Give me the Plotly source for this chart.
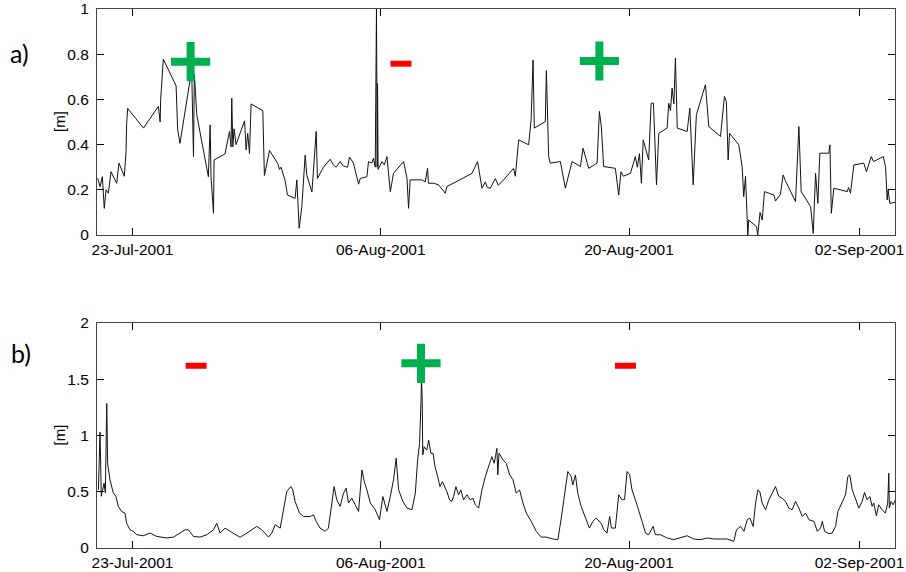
import pandas as pd
import plotly.graph_objects as go

# ---- data (time in day-of-July 2001: 32 = 1 Aug, 63 = 1 Sep) ----
t_a = [21.04, 21.17, 21.30, 21.41, 21.51, 21.64, 21.79, 22.11, 22.24, 22.45, 22.54, 22.64, 22.67, 22.73,
       23.62, 24.46, 24.56, 24.59, 24.74, 25.46, 25.55, 25.68, 26.25, 26.34, 26.44, 26.49, 26.63, 27.28,
       27.38, 27.43, 27.57, 27.60, 28.22, 28.47, 28.56, 28.60, 28.66, 28.73, 28.84, 29.32, 29.41, 29.50,
       29.60, 29.69, 30.35, 30.44, 30.73, 31.20, 31.29, 31.38, 31.61, 31.74, 32.17, 32.27, 32.40, 32.55,
       32.74, 32.83, 33.12, 33.36, 33.43, 33.77, 34.15, 34.33, 34.49, 34.71, 34.90, 35.13, 35.24, 35.46,
       35.75, 35.84, 36.22, 36.31, 36.50, 36.59, 36.69, 36.76, 36.80, 36.82, 36.85, 37.07, 37.20, 37.35,
       37.54, 37.72, 38.29, 38.48, 38.57, 38.66, 39.32, 39.51, 39.64, 39.69, 39.98, 40.26, 40.64, 40.73,
       42.15, 42.46, 42.71, 42.90, 43.01, 43.18, 43.46, 43.63, 43.93, 44.19, 44.49, 44.59, 44.78, 45.34,
       45.48, 45.59, 45.66, 46.28, 46.34, 46.47, 46.56, 47.13, 47.41, 47.79, 48.26, 48.41, 48.73, 49.20,
       49.33, 49.44, 49.57, 50.23, 50.42, 50.55, 50.68, 51.08, 51.36, 51.47, 51.59, 51.70, 51.80, 52.11,
       52.25, 52.38, 52.55, 52.68, 53.15, 53.24, 53.34, 53.43, 53.53, 53.62, 53.72, 54.28, 54.43, 54.62,
       54.80, 55.31, 55.50, 56.16, 56.38, 56.49, 56.59, 56.67, 57.19, 57.38, 57.47, 57.57, 57.70, 57.75,
       58.19, 58.26, 58.39, 58.51, 58.64, 59.17, 59.26, 59.54, 59.69, 59.82, 60.39, 60.58, 60.71, 61.24,
       61.39, 61.52, 61.65, 61.76, 62.27, 62.33, 62.41, 62.55, 63.31, 63.38, 63.49, 63.68, 64.24, 64.39,
       64.66, 64.79, 65.34, 65.47, 65.56, 65.61, 65.71, 66.03]
v_a = [0.251, 0.214, 0.258, 0.118, 0.200, 0.185, 0.280, 0.229, 0.318, 0.280, 0.260, 0.370, 0.490, 0.560,
       0.473, 0.569, 0.500, 0.600, 0.778, 0.660, 0.465, 0.406, 0.687, 0.730, 0.347, 0.710, 0.530, 0.258,
       0.487, 0.258, 0.096, 0.332, 0.359, 0.458, 0.390, 0.605, 0.390, 0.470, 0.400, 0.505, 0.377, 0.450,
       0.360, 0.580, 0.550, 0.263, 0.374, 0.315, 0.290, 0.300, 0.240, 0.177, 0.162, 0.244, 0.030, 0.126,
       0.354, 0.265, 0.190, 0.458, 0.250, 0.300, 0.335, 0.310, 0.300, 0.325, 0.305, 0.300, 0.345, 0.318,
       0.225, 0.250, 0.258, 0.325, 0.318, 0.340, 0.300, 1.000, 0.300, 0.670, 0.290, 0.325, 0.310, 0.347,
       0.192, 0.273, 0.325, 0.251, 0.118, 0.244, 0.244, 0.235, 0.295, 0.229, 0.229, 0.222, 0.185, 0.214,
       0.273, 0.325, 0.207, 0.235, 0.210, 0.207, 0.250, 0.220, 0.244, 0.270, 0.295, 0.260, 0.421, 0.399,
       0.510, 0.775, 0.473, 0.502, 0.728, 0.347, 0.318, 0.325, 0.207, 0.325, 0.303, 0.384, 0.295, 0.318,
       0.547, 0.480, 0.303, 0.295, 0.177, 0.280, 0.260, 0.273, 0.347, 0.300, 0.360, 0.229, 0.421, 0.332,
       0.583, 0.583, 0.222, 0.450, 0.473, 0.583, 0.550, 0.650, 0.580, 0.783, 0.473, 0.458, 0.561, 0.222,
       0.532, 0.665, 0.480, 0.436, 0.613, 0.590, 0.332, 0.450, 0.399, 0.303, 0.170, 0.260, 0.000, 0.066,
       0.037, 0.000, 0.100, 0.066, 0.192, 0.177, 0.150, 0.180, 0.266, 0.240, 0.148, 0.480, 0.192, 0.126,
       0.007, 0.273, 0.140, 0.362, 0.362, 0.399, 0.096, 0.207, 0.192, 0.210, 0.185, 0.310, 0.318, 0.280,
       0.347, 0.325, 0.347, 0.300, 0.155, 0.200, 0.140, 0.145]

t_b = [21.08, 21.13, 21.17, 21.21, 21.24, 21.40, 21.47, 21.55, 21.60, 21.73, 21.92, 22.07, 22.20, 22.39,
       22.58, 22.67, 22.86, 23.05, 23.24, 23.61, 23.99, 24.37, 24.93, 25.31, 25.68, 25.97, 26.15, 26.44,
       26.81, 27.19, 27.57, 27.75, 27.94, 28.22, 28.51, 28.79, 29.07, 29.45, 29.82, 30.01, 30.29, 30.67,
       30.86, 31.05, 31.33, 31.48, 31.70, 31.93, 32.04, 32.17, 32.42, 32.65, 33.03, 33.21, 33.36, 33.58,
       33.87, 34.05, 34.24, 34.37, 34.52, 34.71, 34.90, 35.05, 35.18, 35.37, 35.56, 35.75, 35.94, 36.07,
       36.22, 36.41, 36.69, 36.93, 37.12, 37.35, 37.54, 37.72, 37.87, 38.01, 38.25, 38.48, 38.76, 38.95,
       39.08, 39.19, 39.27, 39.30, 39.34, 39.37, 39.45, 39.60, 39.70, 39.83, 39.95, 40.06, 40.21, 40.34,
       40.48, 40.60, 40.73, 40.88, 41.01, 41.11, 41.24, 41.39, 41.52, 41.67, 41.86, 42.05, 42.20, 42.33,
       42.52, 42.71, 42.90, 43.14, 43.27, 43.40, 43.55, 43.60, 43.67, 43.90, 44.08, 44.27, 44.46, 44.64,
       44.83, 45.02, 45.21, 45.49, 45.77, 46.05, 46.33, 46.71, 46.99, 47.18, 47.36, 47.55, 47.74, 47.83,
       47.98, 48.11, 48.30, 48.49, 48.77, 48.96, 49.15, 49.43, 49.58, 49.76, 49.91, 50.01, 50.23, 50.42,
       50.61, 50.75, 50.89, 51.04, 51.17, 51.36, 51.55, 51.74, 51.93, 52.11, 52.36, 52.49, 52.77, 53.15,
       53.52, 53.90, 54.28, 54.65, 55.03, 55.41, 55.78, 56.16, 56.54, 56.91, 57.06, 57.29, 57.48, 57.67,
       57.82, 58.00, 58.14, 58.27, 58.38, 58.51, 58.70, 58.89, 59.07, 59.26, 59.45, 59.64, 59.83, 60.01,
       60.20, 60.39, 60.58, 60.77, 60.96, 61.15, 61.43, 61.62, 61.80, 61.90, 62.03, 62.27, 62.46, 62.65,
       62.78, 63.02, 63.21, 63.34, 63.45, 63.59, 63.77, 63.96, 64.15, 64.28, 64.43, 64.58, 64.71, 64.80,
       64.95, 65.08, 65.27, 65.46, 65.59, 65.65, 65.68, 65.78, 65.89, 66.02]
v_b = [0.517, 0.780, 1.030, 0.720, 0.460, 0.576, 0.490, 1.285, 0.750, 0.606, 0.490, 0.458, 0.370, 0.325,
       0.310, 0.220, 0.162, 0.148, 0.118, 0.109, 0.133, 0.103, 0.089, 0.097, 0.133, 0.162, 0.162, 0.103,
       0.097, 0.118, 0.162, 0.220, 0.133, 0.177, 0.148, 0.118, 0.095, 0.133, 0.177, 0.192, 0.162, 0.097,
       0.133, 0.207, 0.177, 0.310, 0.502, 0.546, 0.517, 0.414, 0.310, 0.280, 0.280, 0.295, 0.236, 0.177,
       0.148, 0.177, 0.428, 0.546, 0.428, 0.370, 0.487, 0.532, 0.400, 0.443, 0.384, 0.325, 0.694, 0.591,
       0.517, 0.400, 0.340, 0.251, 0.458, 0.325, 0.458, 0.606, 0.798, 0.517, 0.414, 0.355, 0.340, 0.487,
       0.783, 0.930, 1.300, 1.520, 1.310, 0.827, 0.900, 0.870, 0.960, 0.842, 0.842, 0.724, 0.635, 0.546,
       0.590, 0.546, 0.502, 0.428, 0.414, 0.460, 0.546, 0.473, 0.517, 0.428, 0.473, 0.428, 0.443, 0.384,
       0.355, 0.517, 0.635, 0.753, 0.812, 0.753, 0.886, 0.650, 0.842, 0.783, 0.753, 0.650, 0.606, 0.487,
       0.517, 0.400, 0.310, 0.236, 0.148, 0.097, 0.097, 0.080, 0.074, 0.266, 0.458, 0.680, 0.635, 0.560,
       0.650, 0.487, 0.370, 0.295, 0.177, 0.236, 0.266, 0.220, 0.162, 0.133, 0.280, 0.177, 0.177, 0.473,
       0.428, 0.430, 0.680, 0.650, 0.517, 0.428, 0.340, 0.236, 0.133, 0.118, 0.192, 0.118, 0.118, 0.089,
       0.074, 0.089, 0.109, 0.080, 0.074, 0.089, 0.080, 0.080, 0.080, 0.059, 0.162, 0.192, 0.148, 0.251,
       0.266, 0.192, 0.400, 0.517, 0.500, 0.400, 0.340, 0.428, 0.487, 0.546, 0.458, 0.443, 0.414, 0.355,
       0.340, 0.414, 0.355, 0.280, 0.310, 0.251, 0.236, 0.148, 0.177, 0.236, 0.148, 0.127, 0.133, 0.192,
       0.325, 0.400, 0.473, 0.635, 0.650, 0.517, 0.428, 0.355, 0.414, 0.493, 0.428, 0.458, 0.370, 0.400,
       0.287, 0.384, 0.340, 0.310, 0.400, 0.665, 0.355, 0.414, 0.384, 0.428]

# sign markers
plus_a_t, plus_a_v = [26.28, 49.33], [0.767, 0.770]
minus_a_t, minus_a_v = [38.14], [0.758]
plus_b_t, plus_b_v = [39.27], [1.642]
minus_b_t, minus_b_v = [26.59, 50.80], [1.62, 1.62]

tick_dates = ["2001-07-23", "2001-08-06", "2001-08-20", "2001-09-02"]
tick_text = ["23-Jul-2001", "06-Aug-2001", "20-Aug-2001", "02-Sep-2001"]
x_range = ["2001-07-21", "2001-09-04"]


def to_dt(days):
    return [pd.Timestamp("2001-07-01") + pd.to_timedelta(d - 1, unit="D") for d in days]


W, H = 906, 572
GREEN = "#00B050"
RED = "#FF0000"

fig = go.Figure()
fig.add_trace(go.Scatter(x=to_dt(t_a), y=v_a, mode="lines", line=dict(color="#111111", width=1),
                         xaxis="x", yaxis="y", showlegend=False, hoverinfo="skip"))
fig.add_trace(go.Scatter(x=to_dt(t_b), y=v_b, mode="lines", line=dict(color="#111111", width=1),
                         xaxis="x2", yaxis="y2", showlegend=False, hoverinfo="skip"))

plus_marker = dict(symbol="cross-thin", size=28, line=dict(color=GREEN, width=8), color=GREEN)
minus_marker = dict(symbol="line-ew", size=15, line=dict(color=RED, width=6), color=RED)
fig.add_trace(go.Scatter(x=to_dt(plus_a_t), y=plus_a_v, mode="markers", marker=plus_marker,
                         xaxis="x", yaxis="y", showlegend=False, cliponaxis=False))
fig.add_trace(go.Scatter(x=to_dt(minus_a_t), y=minus_a_v, mode="markers", marker=minus_marker,
                         xaxis="x", yaxis="y", showlegend=False, cliponaxis=False))
fig.add_trace(go.Scatter(x=to_dt(plus_b_t), y=plus_b_v, mode="markers", marker=plus_marker,
                         xaxis="x2", yaxis="y2", showlegend=False, cliponaxis=False))
fig.add_trace(go.Scatter(x=to_dt(minus_b_t), y=minus_b_v, mode="markers", marker=minus_marker,
                         xaxis="x2", yaxis="y2", showlegend=False, cliponaxis=False))

xdom = [97 / W, 895 / W]
ydom_a = [1 - 235 / H, 1 - 9 / H]
ydom_b = [1 - 548 / H, 1 - 323 / H]

tickfont = dict(family="Liberation Sans, Arial, sans-serif", size=15.5, color="#000000")
common_x = dict(range=x_range, tickvals=tick_dates, ticktext=tick_text, ticks="inside", ticklen=7,
                tickcolor="#000000", showline=True, linecolor="#444444", linewidth=1, mirror="ticks",
                showgrid=False, zeroline=False, tickfont=tickfont, domain=xdom, automargin=False)
common_y = dict(ticks="inside", ticklen=7, tickcolor="#000000", showline=True, linecolor="#444444",
                linewidth=1, mirror="ticks", showgrid=False, zeroline=False, tickfont=tickfont,
                ticklabelstandoff=4, automargin=False)

fig.update_layout(
    width=W, height=H, margin=dict(l=0, r=0, t=0, b=0, autoexpand=False),
    paper_bgcolor="white", plot_bgcolor="white",
    xaxis=dict(common_x, anchor="y"),
    yaxis=dict(common_y, range=[0, 1], tickvals=[0, 0.2, 0.4, 0.6, 0.8, 1],
               ticktext=["0", "0.2", "0.4", "0.6", "0.8", "1"], domain=ydom_a, anchor="x"),
    xaxis2=dict(common_x, anchor="y2"),
    yaxis2=dict(common_y, range=[0, 2], tickvals=[0, 0.5, 1, 1.5, 2],
                ticktext=["0", "0.5", "1", "1.5", "2"], domain=ydom_b, anchor="x2"),
)

labfont = dict(family="Liberation Sans, Arial, sans-serif", size=15, color="#000000")
for yc in [(9 + 235) / 2, (323 + 548) / 2]:
    fig.add_annotation(text="[m]", x=59 / W, y=1 - yc / H, xref="paper", yref="paper",
                       showarrow=False, textangle=-90, font=labfont, xanchor="center", yanchor="middle")

panfont = dict(family="Lato, Open Sans, sans-serif", size=25, color="#000000")
fig.add_annotation(text="a)", x=19 / W, y=1 - 53 / H, xref="paper", yref="paper",
                   showarrow=False, font=panfont, xanchor="center", yanchor="middle")
fig.add_annotation(text="b)", x=21 / W, y=1 - 353 / H, xref="paper", yref="paper",
                   showarrow=False, font=panfont, xanchor="center", yanchor="middle")

fig.write_html("out.html")
